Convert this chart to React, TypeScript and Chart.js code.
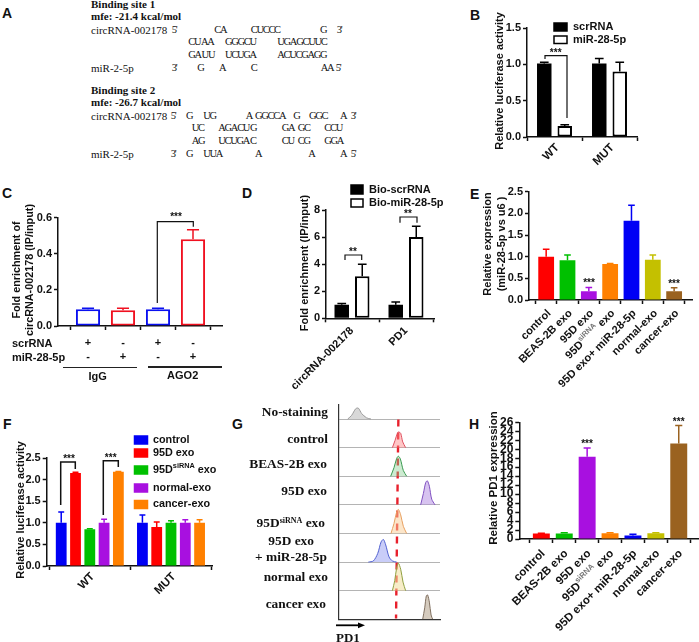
import React, { useEffect, useRef } from "react";
import { Chart, registerables } from "chart.js";

Chart.register(...registerables);

const SANS = '"Liberation Sans", Arial, sans-serif';
const SERIF = '"Liberation Serif", "Times New Roman", serif';

/* ---------- data ---------- */
const bCategories = ["WT", "MUT"];
const bScr = [1.01, 1.01];
const bScrErr = [0.02, 0.07];
const bMir = [0.15, 0.9];
const bMirErr = [0.02, 0.13];

const cCategories = [["+", "-"], ["-", "+"], ["+", "-"], ["-", "+"]];
const cValues = [0.093, 0.087, 0.093, 0.48];
const cErrs = [0.005, 0.012, 0.006, 0.053];
const cColors = ["#0a10f0", "#f01020", "#0a10f0", "#f01020"];

const dCategories = ["circRNA-002178", "PD1"];
const dScr = [1.0, 1.0];
const dScrErr = [0.1, 0.2];
const dMir = [3.1, 6.0];
const dMirErr = [0.9, 0.8];

const exoCategories = ["control", "BEAS-2B exo", "95D exo", "95D^siRNA^ exo", "95D exo+ miR-28-5p", "normal-exo", "cancer-exo"];
const eValues = [1.0, 0.92, 0.2, 0.83, 1.83, 0.93, 0.2];
const eErrs = [0.17, 0.12, 0.09, 0.01, 0.36, 0.11, 0.08];
const eColors = ["#ff0000", "#00c000", "#a810e0", "#ff8000", "#0000f5", "#c4c000", "#9a6220"];

const fCategories = ["WT", "MUT"];
const fControl = [1.0, 1.0];
const fControlErr = [0.25, 0.18];
const f95D = [2.15, 0.9];
const f95DErr = [0.02, 0.12];
const fSiRNA = [0.85, 1.0];
const fSiRNAErr = [0.01, 0.05];
const fNormal = [1.0, 1.0];
const fNormalErr = [0.08, 0.07];
const fCancer = [2.18, 1.0];
const fCancerErr = [0.01, 0.07];

const hValues = [1.2, 1.2, 18.3, 1.3, 0.8, 1.3, 21.3];
const hErrs = [0.1, 0.2, 2.0, 0.1, 0.25, 0.1, 4.0];
const hColors = ["#ff0000", "#00c000", "#a810e0", "#ff8000", "#0000f5", "#c4c000", "#9a6220"];

/* Panel G: fluorescence position and relative peak height of each histogram */
const gNoStainX = [8.9, 12.8, 16.8, 19.4, 22.7, 27.6, 31.9];
const gNoStainH = [0, 0.13, 0.36, 0.38, 0.19, 0.04, 0];
const gControlX = [53, 55.6, 57.9, 59.2, 61.2, 63.2, 66.1];
const gControlH = [0, 0.25, 0.5, 0.55, 0.5, 0.2, 0];
const gBeasX = [51.3, 54.6, 57.2, 58.9, 60.9, 63.8, 67.1];
const gBeasH = [0, 0.3, 0.62, 0.7, 0.6, 0.2, 0];
const g95DX = [80.9, 83.6, 85.9, 87.5, 89.5, 91.8, 95.1];
const g95DH = [0, 0.4, 0.78, 0.84, 0.65, 0.2, 0];
const gSiRNAX = [51.6, 54.6, 57.2, 58.9, 61.2, 63.8, 67.1];
const gSiRNAH = [0, 0.35, 0.75, 0.84, 0.65, 0.25, 0];
const gMirX = [29.3, 34.2, 38.5, 41.8, 44.1, 46.4, 49.7, 53, 57.2];
const gMirH = [0, 0.04, 0.3, 0.7, 0.79, 0.6, 0.18, 0.04, 0];
const gNormalX = [53, 55.3, 57.2, 58.9, 61.2, 63.5, 66.1];
const gNormalH = [0, 0.35, 0.8, 0.96, 0.75, 0.3, 0];
const gCancerX = [82.9, 84.9, 86.5, 87.8, 89.5, 91.2, 92.8];
const gCancerH = [0, 0.4, 0.82, 0.85, 0.6, 0.15, 0];
const gMedianX = [58.9, 56.6];
const gMedianY = [6.98, 0.03];

/* Panel A text */
type Piece = [string, number];
const siteRows: { y: number; pieces: Piece[] }[] = [
  { y: 30, pieces: [["5'", 171.7], ["CA", 214.3], ["CUCCC", 250.7], ["G", 320], ["3'", 336.7]] },
  { y: 42, pieces: [["CU AA", 188.3], ["GGGCU", 225], ["UGAGCUUC", 277.3]] },
  { y: 55, pieces: [["GA UU", 188.3], ["UCUGA", 225], ["ACUCGAGG", 277.3]] },
  { y: 68, pieces: [["3'", 171.7], ["G", 197.3], ["A", 219], ["C", 250.7], ["AA", 320.7], ["5'", 335.7]] },
  { y: 116, pieces: [["5'", 170.7], ["G", 186], ["UG", 203.3], ["A", 245.7], ["GGCCA", 255], ["G", 293.3], ["GGC", 309], ["A", 340], ["3'", 350.7]] },
  { y: 128, pieces: [["UC", 191.7], ["AGACU", 218.3], ["G", 250], ["GA", 281.7], ["GC", 297.7], ["CCU", 324.3]] },
  { y: 141, pieces: [["AG", 191.7], ["UCUGA", 218.3], ["C", 250], ["CU", 281.7], ["CG", 297.7], ["GGA", 324.3]] },
  { y: 154, pieces: [["3'", 170.7], ["G", 186], ["UUA", 203.3], ["A", 255], ["A", 308.3], ["A", 340], ["5'", 350.7]] },
];
const siteLabels: [string, number][] = [["circRNA-002178", 30], ["miR-2-5p", 68], ["circRNA-002178", 116], ["miR-2-5p", 154]];
const siteHeads: [string, number][] = [["Binding site 1", 4], ["mfe: -21.4 kcal/mol", 16], ["Binding site 2", 90], ["mfe: -26.7 kcal/mol", 102]];

const panelLetters: [string, number, number][] = [
  ["A", 2, 13], ["B", 470, 15], ["C", 2, 193], ["D", 242, 193], ["E", 470, 194], ["F", 3, 424], ["G", 232, 424], ["H", 469, 424],
];

/* ---------- generic bar panel ---------- */
type Series = { label: string; values: number[]; errs: number[]; fill: string | string[]; stroke: string | string[]; border: number };
type Spec = {
  box: [number, number, number, number];
  axL: number; axR: number; plotL: number; plotR: number; axT: number; axB: number;
  yMax: number; step: number; decimals: number; tickSize: number; xSize: number; rotation: number;
  categories: any[]; series: Series[]; cat: number; bar: number; xLineHeight?: number; xPad?: number; xShift?: number;
  title: { lines: string[]; x: number; y: number; gap: number; size: number };
  brackets?: { x1: number; y1: number; x2: number; y2: number; top: number; width?: number }[];
  stars?: { x: number; y: number; text: string }[];
  legend?: { label: string; x: number; y: number; w: number; h: number; tx: number; fill: string; stroke: string }[];
  legendSize?: number;
  capRatio: number;
};

function drawRich(ctx: any, text: string, x: number, y: number, size: number, right = false, supColor = "#111", color = "#111") {
  const parts = text.split("^");
  const fontFor = (i: number) => (i % 2 ? `bold ${size * 0.68}px ${SANS}` : `bold ${size}px ${SANS}`);
  let total = 0;
  parts.forEach((p, i) => { ctx.font = fontFor(i); total += ctx.measureText(p).width; });
  let cx = right ? x - total : x;
  ctx.textAlign = "left";
  ctx.textBaseline = "middle";
  parts.forEach((p, i) => {
    ctx.font = fontFor(i);
    ctx.fillStyle = i % 2 ? supColor : color;
    ctx.fillText(p, cx, i % 2 ? y - size * 0.36 : y);
    cx += ctx.measureText(p).width;
  });
}

function BarPanel({ spec }: { spec: Spec }) {
  const ref = useRef<HTMLCanvasElement | null>(null);
  useEffect(() => {
    const [cx, cy, cw, ch] = spec.box;
    const overlay = {
      id: "panelOverlay",
      afterLayout(chart: any) {
        chart.scales.y.right = spec.axL - cx;
        chart.scales.x.left = spec.axL - cx;
        chart.scales.x.right = spec.axR - cx;
      },
      afterDraw(chart: any) {
        const ctx = chart.ctx;
        const yScale = chart.scales.y;
        ctx.save();
        /* error bars */
        spec.series.forEach((s, di) => {
          const meta = chart.getDatasetMeta(di);
          meta.data.forEach((el: any, i: number) => {
            const top = yScale.getPixelForValue(s.values[i] + s.errs[i]);
            const half = el.width * spec.capRatio * 0.5;
            ctx.strokeStyle = Array.isArray(s.stroke) ? s.stroke[i] : s.stroke;
            ctx.lineWidth = 1.5;
            ctx.beginPath();
            ctx.moveTo(el.x, el.y);
            ctx.lineTo(el.x, top);
            ctx.moveTo(el.x - half, top);
            ctx.lineTo(el.x + half, top);
            ctx.stroke();
          });
        });
        /* superscript tick label */
        chart.scales.x.getLabelItems().forEach((item: any, i: number) => {
          const raw = spec.categories[i];
          if (typeof raw === "string" && raw.includes("^")) {
            ctx.save();
            ctx.translate(item.options.translation[0], item.options.translation[1]);
            ctx.rotate(item.options.rotation);
            drawRich(ctx, raw, 0, item.textOffset, spec.xSize, true, "#777");
            ctx.restore();
          }
        });
        ctx.translate(-cx, -cy);
        /* title */
        ctx.save();
        ctx.translate(spec.title.x, spec.title.y);
        ctx.rotate(-Math.PI / 2);
        ctx.font = `bold ${spec.title.size}px ${SANS}`;
        ctx.fillStyle = "#111";
        ctx.textAlign = "center";
        ctx.textBaseline = "middle";
        spec.title.lines.forEach((l, i) => ctx.fillText(l, 0, i * spec.title.gap));
        ctx.restore();
        /* brackets */
        (spec.brackets || []).forEach((b) => {
          ctx.strokeStyle = "#111";
          ctx.lineWidth = b.width || 1.2;
          ctx.beginPath();
          ctx.moveTo(b.x1, b.y1);
          ctx.lineTo(b.x1, b.top);
          ctx.lineTo(b.x2, b.top);
          ctx.lineTo(b.x2, b.y2);
          ctx.stroke();
        });
        (spec.stars || []).forEach((s) => {
          ctx.font = `bold 10px ${SANS}`;
          ctx.fillStyle = "#111";
          ctx.textAlign = "center";
          ctx.textBaseline = "middle";
          ctx.fillText(s.text, s.x, s.y);
        });
        /* legend */
        (spec.legend || []).forEach((l) => {
          ctx.fillStyle = l.fill;
          ctx.fillRect(l.x, l.y, l.w, l.h);
          ctx.strokeStyle = l.stroke;
          ctx.lineWidth = 1.5;
          ctx.strokeRect(l.x, l.y, l.w, l.h);
          drawRich(ctx, l.label, l.tx, l.y + l.h / 2, spec.legendSize || 11);
        });
        ctx.restore();
      },
    };
    const chart = new Chart(ref.current as any, {
      type: "bar",
      data: {
        labels: spec.categories,
        datasets: spec.series.map((s) => ({
          label: s.label,
          data: s.values,
          backgroundColor: s.fill,
          borderColor: s.stroke,
          borderWidth: s.border,
          borderSkipped: false,
          categoryPercentage: spec.cat,
          barPercentage: spec.bar,
        })),
      } as any,
      plugins: [overlay],
      options: {
        responsive: false,
        animation: false,
        layout: { padding: { top: spec.axT - cy, right: cx + cw - spec.plotR, left: 0, bottom: 0 } },
        plugins: { legend: { display: false }, title: { display: false }, tooltip: { enabled: false } },
        scales: {
          x: {
            type: "category",
            offset: true,
            grid: { display: true, drawOnChartArea: false, drawTicks: true, tickLength: 4, tickColor: "#111", tickWidth: 1.5 },
            border: { display: true, color: "#111", width: 1.5 },
            afterFit(s: any) {
              s.height = cy + ch - spec.axB;
              s.paddingLeft = 0; s.paddingRight = 0;
            },
            ticks: {
              autoSkip: false,
              minRotation: spec.rotation,
              maxRotation: spec.rotation,
              padding: spec.xPad ?? 2,
              labelOffset: spec.xShift ?? 0,
              color: "#111",
              font: { family: SANS, size: spec.xSize, weight: "bold", lineHeight: spec.xLineHeight ?? 1.2 },
              callback(this: any, _v: any, i: number) {
                const raw = spec.categories[i];
                return typeof raw === "string" && raw.includes("^") ? "" : raw;
              },
            },
          },
          y: {
            min: 0,
            max: spec.yMax,
            grid: { display: true, drawOnChartArea: false, drawTicks: true, tickLength: 4, tickColor: "#111", tickWidth: 1.5 },
            border: { display: true, color: "#111", width: 1.5 },
            afterFit(s: any) {
              s.width = spec.plotL - cx;
              s.paddingTop = 0; s.paddingBottom = 0;
            },
            ticks: {
              autoSkip: false,
              stepSize: spec.step,
              padding: 2,
              color: "#111",
              font: { family: SANS, size: spec.tickSize, weight: "bold" },
              callback: (v: any) => Number(v).toFixed(spec.decimals),
            },
          },
        },
      } as any,
    });
    return () => chart.destroy();
  }, [spec]);
  const [x, y, w, h] = spec.box;
  return <canvas ref={ref} width={w} height={h} style={{ position: "absolute", left: x, top: y, width: w, height: h }} />;
}

/* ---------- panel specs ---------- */
const specB: Spec = {
  box: [490, 5, 209, 170], axL: 527, axR: 637, plotL: 527, plotR: 637, axT: 28, axB: 137,
  yMax: 1.5, step: 0.5, decimals: 1, tickSize: 11, xSize: 11.5, rotation: 45, categories: bCategories, cat: 0.745, bar: 0.707, capRatio: 0.6, xPad: 0, xShift: 3,
  series: [
    { label: "scrRNA", values: bScr, errs: bScrErr, fill: "#000", stroke: "#000", border: 0 },
    { label: "miR-28-5p", values: bMir, errs: bMirErr, fill: "#fff", stroke: "#000", border: 2 },
  ],
  title: { lines: ["Relative luciferase activity"], x: 500, y: 81, gap: 13, size: 11 },
  brackets: [{ x1: 545, y1: 59, x2: 567, y2: 118, top: 55.7 }],
  stars: [{ x: 555.7, y: 53, text: "***" }],
  legend: [
    { label: "scrRNA", x: 554, y: 23, w: 13, h: 8, tx: 573, fill: "#000", stroke: "#000" },
    { label: "miR-28-5p", x: 554, y: 36, w: 13, h: 7.5, tx: 573, fill: "#fff", stroke: "#000" },
  ],
};
const specC: Spec = {
  box: [5, 190, 235, 180], axL: 58, axR: 222, plotL: 70.5, plotR: 210.5, axT: 217.7, axB: 326,
  yMax: 0.6, step: 0.2, decimals: 1, tickSize: 11, xSize: 11, rotation: 0, categories: cCategories, cat: 1, bar: 0.69, capRatio: 0.5, xLineHeight: 14 / 11, xPad: 6,
  series: [{ label: "Fold enrichment", values: cValues, errs: cErrs, fill: "#fff", stroke: cColors, border: 2 }],
  title: { lines: ["Fold enrichment of", "circRNA-002178 (IP/input)"], x: 17, y: 270, gap: 13.3, size: 10.8 },
  brackets: [{ x1: 157.3, y1: 303, x2: 193.3, y2: 226.7, top: 221.7 }],
  stars: [{ x: 176, y: 217, text: "***" }],
};
const specD: Spec = {
  box: [290, 178, 160, 212], axL: 326, axR: 434, plotL: 325, plotR: 433, axT: 210, axB: 318.3,
  yMax: 8, step: 2, decimals: 0, tickSize: 11, xSize: 11, rotation: 45, categories: dCategories, cat: 0.759, bar: 0.707, capRatio: 0.6,
  series: [
    { label: "Bio-scrRNA", values: dScr, errs: dScrErr, fill: "#000", stroke: "#000", border: 0 },
    { label: "Bio-miR-28-5p", values: dMir, errs: dMirErr, fill: "#fff", stroke: "#000", border: 2 },
  ],
  title: { lines: ["Fold enrichment (IP/input)"], x: 305, y: 263, gap: 13, size: 11 },
  brackets: [
    { x1: 345, y1: 260, x2: 361.7, y2: 260, top: 255 },
    { x1: 400, y1: 222.7, x2: 417, y2: 222.7, top: 217 },
  ],
  stars: [{ x: 353, y: 252, text: "**" }, { x: 408, y: 214, text: "**" }],
  legend: [
    { label: "Bio-scrRNA", x: 351, y: 185, w: 12, h: 9, tx: 369, fill: "#000", stroke: "#000" },
    { label: "Bio-miR-28-5p", x: 351, y: 199, w: 12, h: 8, tx: 369, fill: "#fff", stroke: "#000" },
  ],
};
const specE: Spec = {
  box: [470, 180, 229, 210], axL: 529, axR: 692, plotL: 535.5, plotR: 684.8, axT: 191.7, axB: 300,
  yMax: 2.5, step: 0.5, decimals: 1, tickSize: 11, xSize: 11, rotation: 45, categories: exoCategories, cat: 1, bar: 0.74, capRatio: 0.42, xPad: 3, xShift: 3,
  series: [{ label: "Relative expression", values: eValues, errs: eErrs, fill: eColors, stroke: eColors, border: 0 }],
  title: { lines: ["Relative expression", "(miR-28-5p vs u6 )"], x: 488, y: 244, gap: 13.7, size: 11 },
  stars: [{ x: 589, y: 283, text: "***" }, { x: 674, y: 284, text: "***" }],
};
const specF: Spec = {
  box: [10, 430, 210, 170], axL: 46.7, axR: 212.7, plotL: 49.2, plotR: 211.6, axT: 458, axB: 566,
  yMax: 2.5, step: 0.5, decimals: 1, tickSize: 11, xSize: 11.5, rotation: 45, categories: fCategories, cat: 0.88, bar: 0.755, capRatio: 0.55, xPad: 0, xShift: 3,
  series: [
    { label: "control", values: fControl, errs: fControlErr, fill: "#0000f5", stroke: "#0000f5", border: 0 },
    { label: "95D exo", values: f95D, errs: f95DErr, fill: "#ff0000", stroke: "#ff0000", border: 0 },
    { label: "95D siRNA exo", values: fSiRNA, errs: fSiRNAErr, fill: "#00c000", stroke: "#00c000", border: 0 },
    { label: "normal-exo", values: fNormal, errs: fNormalErr, fill: "#a810e0", stroke: "#a810e0", border: 0 },
    { label: "cancer-exo", values: fCancer, errs: fCancerErr, fill: "#ff8000", stroke: "#ff8000", border: 0 },
  ],
  title: { lines: ["Relative luciferase activity"], x: 21, y: 510, gap: 13, size: 11 },
  brackets: [
    { x1: 60.7, y1: 505, x2: 75.3, y2: 469, top: 462, width: 1.5 },
    { x1: 103.3, y1: 515, x2: 118.3, y2: 467, top: 460.7, width: 1.5 },
  ],
  stars: [{ x: 69, y: 459, text: "***" }, { x: 110.7, y: 458, text: "***" }],
  legendSize: 10.8,
  legend: [
    { label: "control", x: 134.5, y: 436, w: 13, h: 8, tx: 153, fill: "#0000f5", stroke: "#0000f5" },
    { label: "95D exo", x: 134.5, y: 449, w: 13, h: 8, tx: 153, fill: "#ff0000", stroke: "#ff0000" },
    { label: "95D^siRNA^ exo", x: 134.5, y: 466, w: 13, h: 8, tx: 153, fill: "#00c000", stroke: "#00c000" },
    { label: "normal-exo", x: 134.5, y: 484, w: 13, h: 8, tx: 153, fill: "#a810e0", stroke: "#a810e0" },
    { label: "cancer-exo", x: 134.5, y: 500.5, w: 13, h: 8, tx: 153, fill: "#ff8000", stroke: "#ff8000" },
  ],
};
const specH: Spec = {
  box: [480, 410, 219, 232], axL: 519.3, axR: 698, plotL: 529.9, plotR: 690.2, axT: 422.3, axB: 539,
  yMax: 26, step: 2, decimals: 0, tickSize: 12, xSize: 11.5, rotation: 45, categories: exoCategories, cat: 1, bar: 0.74, capRatio: 0.42, xPad: 4, xShift: 2,
  series: [{ label: "Relative PD1 expression", values: hValues, errs: hErrs, fill: hColors, stroke: hColors, border: 0 }],
  title: { lines: ["Relative PD1 expression"], x: 494, y: 478, gap: 13, size: 11.5 },
  stars: [{ x: 587, y: 444, text: "***" }, { x: 678.7, y: 422, text: "***" }],
};

/* ---------- panel G ---------- */
const gRows = [
  { x: gNoStainX, h: gNoStainH, base: 7, stroke: "#9a9a9a", fill: "rgba(190,190,190,0.6)" },
  { x: gControlX, h: gControlH, base: 6, stroke: "#e05060", fill: "rgba(255,130,130,0.45)" },
  { x: gBeasX, h: gBeasH, base: 5, stroke: "#3a9a50", fill: "rgba(130,205,140,0.4)" },
  { x: g95DX, h: g95DH, base: 4, stroke: "#8050c0", fill: "rgba(175,135,225,0.5)" },
  { x: gSiRNAX, h: gSiRNAH, base: 3, stroke: "#e8a060", fill: "rgba(250,205,150,0.5)" },
  { x: gMirX, h: gMirH, base: 2, stroke: "#5060d0", fill: "rgba(135,145,240,0.45)" },
  { x: gNormalX, h: gNormalH, base: 1, stroke: "#90a040", fill: "rgba(240,222,155,0.55)" },
  { x: gCancerX, h: gCancerH, base: 0, stroke: "#807060", fill: "rgba(190,175,155,0.65)" },
];

function HistogramPanel() {
  const ref = useRef<HTMLCanvasElement | null>(null);
  useEffect(() => {
    const cx = 320, cy = 395, axL = 338.7, axR = 440, axT = 405, axB = 619.3, cw = 130, ch = 240;
    const overlay = {
      id: "arrow",
      afterDraw(chart: any) {
        const ctx = chart.ctx;
        ctx.save();
        ctx.translate(-cx, -cy);
        ctx.strokeStyle = "#000";
        ctx.lineWidth = 1.8;
        ctx.beginPath();
        ctx.moveTo(336, 625.3);
        ctx.lineTo(360, 625.3);
        ctx.stroke();
        ctx.fillStyle = "#000";
        ctx.beginPath();
        ctx.moveTo(365, 625.3);
        ctx.lineTo(358, 622.4);
        ctx.lineTo(358, 628.2);
        ctx.closePath();
        ctx.fill();
        ctx.restore();
      },
    };
    const chart = new Chart(ref.current as any, {
      type: "line",
      data: {
        datasets: [
          ...gRows.map((r) => ({
            data: r.x.map((x, i) => ({ x, y: r.base + r.h[i] })),
            borderColor: r.stroke,
            backgroundColor: r.fill,
            borderWidth: 1,
            pointRadius: 0,
            tension: 0.3,
            fill: { value: r.base },
          })),
          {
            data: gMedianX.map((x, i) => ({ x, y: gMedianY[i] })),
            borderColor: "#e8202c",
            borderWidth: 2.4,
            borderDash: [7, 6],
            pointRadius: 0,
            fill: false,
          },
        ],
      } as any,
      plugins: [overlay],
      options: {
        responsive: false,
        animation: false,
        layout: { padding: { top: axT - cy, right: cx + cw - axR, left: 0, bottom: 0 } },
        plugins: { legend: { display: false }, tooltip: { enabled: false } },
        scales: {
          x: {
            type: "linear", min: 0, max: 100,
            grid: { display: false },
            border: { display: true, color: "#333", width: 1.2 },
            ticks: { display: false },
            afterFit(s: any) { s.height = cy + ch - axB; s.paddingLeft = 0; s.paddingRight = 0; },
          },
          y: {
            min: 0, max: 7.49,
            grid: { display: true, color: "#b4b4b4", lineWidth: 1, drawTicks: false },
            border: { display: true, color: "#333", width: 1.2 },
            ticks: { display: false, stepSize: 1, includeBounds: false },
            afterFit(s: any) { s.width = axL - cx; s.paddingTop = 0; s.paddingBottom = 0; },
          },
        },
      } as any,
    });
    return () => chart.destroy();
  }, []);
  return <canvas ref={ref} width={130} height={240} style={{ position: "absolute", left: 320, top: 395, width: 130, height: 240 }} />;
}

/* ---------- HTML text helpers ---------- */
const Txt = ({ x, y, size, font, bold, align, spacing, children }: any) => (
  <div
    style={{
      position: "absolute", left: x, top: y, whiteSpace: "pre", lineHeight: 1, color: "#111",
      fontFamily: font, fontSize: size, fontWeight: bold ? 700 : 400, letterSpacing: spacing ?? "normal",
      transform: align === "right" ? "translate(-100%,-50%)" : align === "center" ? "translate(-50%,-50%)" : "translateY(-50%)",
    }}
  >
    {children}
  </div>
);

const gLabels: { y: number; right: number; text: any }[] = [
  { y: 411.7, right: 328, text: "No-staining" },
  { y: 439, right: 328, text: "control" },
  { y: 464, right: 327, text: "BEAS-2B exo" },
  { y: 491, right: 327, text: "95D exo" },
  { y: 522.7, right: 325, text: <>95D<sup style={{ fontSize: 8, verticalAlign: 4, lineHeight: 0 }}>siRNA</sup> exo</> },
  { y: 540.7, right: 314, text: "95D exo" },
  { y: 556.7, right: 327, text: "+ miR-28-5p" },
  { y: 577, right: 328, text: "normal exo" },
  { y: 604, right: 326, text: "cancer exo" },
];

export default function App() {
  return (
    <div style={{ position: "absolute", left: 0, top: 0, width: 699, height: 642, background: "#fff", overflow: "hidden", filter: "blur(0.3px)" }}>
      {panelLetters.map(([t, x, y]) => (
        <Txt key={t} x={x} y={y} size={14} font={SANS} bold>{t}</Txt>
      ))}
      {siteHeads.map(([t, y]) => (
        <Txt key={t} x={91} y={y} size={11} font={SERIF} bold>{t}</Txt>
      ))}
      {siteLabels.map(([t, y]) => (
        <Txt key={t + y} x={91} y={y} size={11} font={SERIF}>{t}</Txt>
      ))}
      {siteRows.flatMap((r) =>
        r.pieces.map(([t, x]) => (
          <Txt key={`${r.y}-${x}`} x={x} y={r.y} size={10.5} font={SERIF} spacing="-1.3px">{t}</Txt>
        ))
      )}
      <BarPanel spec={specB} />
      <BarPanel spec={specC} />
      <BarPanel spec={specD} />
      <BarPanel spec={specE} />
      <BarPanel spec={specF} />
      <BarPanel spec={specH} />
      <HistogramPanel />
      <Txt x={12} y={342.7} size={11} font={SANS} bold>scrRNA</Txt>
      <Txt x={12} y={356.7} size={11} font={SANS} bold>miR-28-5p</Txt>
      <div style={{ position: "absolute", left: 63, top: 366.5, width: 74, height: 1.5, background: "#222" }} />
      <div style={{ position: "absolute", left: 148, top: 366, width: 74, height: 1.5, background: "#222" }} />
      <Txt x={97.7} y={376} size={11} font={SANS} bold align="center">IgG</Txt>
      <Txt x={182.7} y={375} size={11} font={SANS} bold align="center">AGO2</Txt>
      {gLabels.map((l, i) => (
        <Txt key={i} x={l.right} y={l.y} size={13.4} font={SERIF} bold align="right">{l.text}</Txt>
      ))}
      <Txt x={336} y={637} size={13} font={SERIF} bold>PD1</Txt>
    </div>
  );
}
